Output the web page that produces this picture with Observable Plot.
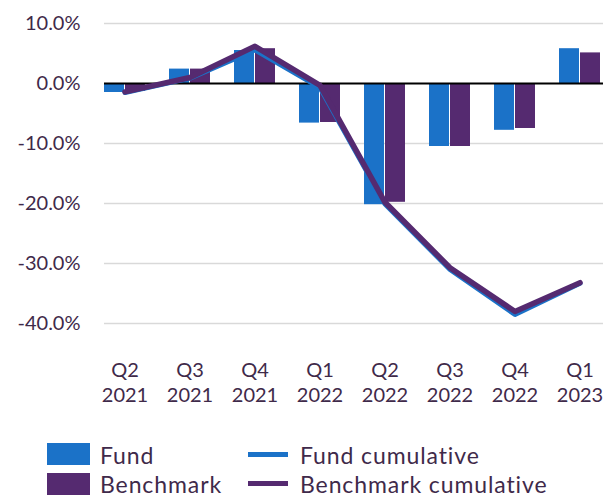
<!DOCTYPE html>
<html>
<head>
<meta charset="utf-8">
<script src="https://cdn.jsdelivr.net/npm/d3@7"></script>
<script src="https://cdn.jsdelivr.net/npm/@observablehq/plot@0.6"></script>
<style>
  html, body { margin: 0; padding: 0; background: #fff; overflow: hidden; }
  #wrap { position: relative; width: 609px; height: 498px; font-family: Lato, sans-serif; color: #3f2a4a; }
  #chart svg { display: block; }
  .sw { position: absolute; width: 43px; height: 22px; }
  .ln { position: absolute; width: 40px; height: 5px; }
  .lab { position: absolute; font-size: 23px; line-height: 20px; white-space: nowrap; letter-spacing: 0.9px; }
</style>
</head>
<body>
<div id="wrap">
  <div id="chart"></div>
  <div id="legend"></div>
</div>
<script>
const quarters = ["Q2 2021","Q3 2021","Q4 2021","Q1 2022","Q2 2022","Q3 2022","Q4 2022","Q1 2023"];
const fund = [-1.5, 2.4, 5.5, -6.6, -20.2, -10.5, -7.8, 5.8];
const benchmark = [-1.3, 2.4, 5.8, -6.5, -19.8, -10.5, -7.5, 5.1];
const fundCumulative = [-1.5, 0.9, 5.6, -0.7, -20.1, -31.0, -38.5, -33.3];
const benchmarkCumulative = [-1.4, 1.0, 6.2, -0.3, -19.8, -30.7, -38.0, -33.2];
const yTicks = [10, 0, -10, -20, -30, -40];
const seriesNames = ["Fund", "Benchmark", "Fund cumulative", "Benchmark cumulative"];

const blue = "#1b72c8";
const purple = "#552a70";
const textColor = "#3f2a4a";

const table = quarters.map((q, i) => ({
  q, fund: fund[i], bench: benchmark[i], fundCum: fundCumulative[i], benchCum: benchmarkCumulative[i]
}));

const chart = Plot.plot({
  width: 609,
  height: 440,
  marginLeft: 104,
  marginRight: 6,
  marginTop: 23,
  marginBottom: 117,
  style: { fontFamily: "Lato, sans-serif", fontSize: "20px", color: textColor, background: "white" },
  x: { type: "band", domain: quarters, range: [89, 616], paddingInner: 0.362, paddingOuter: 0.181, axis: null, label: null },
  y: { domain: [-40, 10], axis: null, label: null },
  marks: [
    Plot.ruleY(yTicks.filter(d => d !== 0), { stroke: "#d9d9d9", strokeWidth: 1.5 }),
    Plot.barY(table, { x: "q", y: "fund", fill: blue, insetRight: 21, clip: true }),
    Plot.barY(table, { x: "q", y: "bench", fill: purple, insetLeft: 21, clip: true }),
    Plot.ruleY([0], { stroke: "black", strokeWidth: 2 }),
    Plot.line(table, { x: "q", y: "fundCum", stroke: blue, strokeWidth: 5, strokeLinecap: "round", strokeLinejoin: "round" }),
    Plot.line(table, { x: "q", y: "benchCum", stroke: purple, strokeWidth: 5.5, strokeLinecap: "round", strokeLinejoin: "round" }),
    Plot.axisY(yTicks, { tickSize: 0, tickPadding: 24, tickFormat: d => d.toFixed(1) + "%", fill: textColor, fontSize: 20, label: null }),
    Plot.axisX(quarters, { tickSize: 0, tickPadding: 36, tickFormat: d => d.replace(" ", "\n"), lineHeight: 1.25, fill: textColor, fontSize: 20, label: null })
  ]
});
document.getElementById("chart").appendChild(chart);

const legend = document.getElementById("legend");
const items = [
  { type: "sw", color: blue, left: 47, top: 443, text: seriesNames[0], tx: 100 },
  { type: "sw", color: purple, left: 47, top: 473, text: seriesNames[1], tx: 100 },
  { type: "ln", color: blue, left: 248, top: 452, text: seriesNames[2], tx: 300 },
  { type: "ln", color: purple, left: 248, top: 481, text: seriesNames[3], tx: 300 }
];
items.forEach((it, i) => {
  const s = document.createElement("div");
  s.className = it.type;
  s.style.left = it.left + "px";
  s.style.top = it.top + "px";
  s.style.background = it.color;
  legend.appendChild(s);
  const t = document.createElement("div");
  t.className = "lab";
  t.textContent = it.text;
  t.style.left = it.tx + "px";
  t.style.top = (i % 2 === 0 ? 445 : 474) + "px";
  legend.appendChild(t);
});
</script>
</body>
</html>
